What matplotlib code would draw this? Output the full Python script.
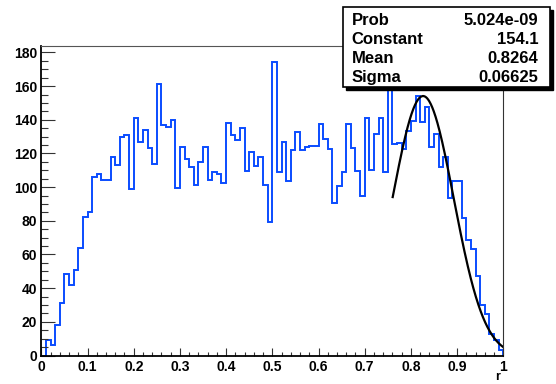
import numpy as np
import matplotlib
matplotlib.use("Agg")
import matplotlib.pyplot as plt
from matplotlib.patches import Rectangle
from matplotlib.ticker import MultipleLocator

# contenido de los 100 bines (0 a 1, ancho 0.01)
cuentas = [
    0, 9, 6, 18, 31, 48.5, 41.6, 51, 64, 82,
    85, 106, 108, 104, 104, 118, 113, 130, 131, 99,
    141, 127, 134, 123, 113.6, 161, 137, 136, 140, 99.6,
    124, 117, 112, 101, 115, 124, 104.5, 108.7, 107.7, 102.6,
    138, 131, 128, 135, 109.5, 121, 112.6, 118, 101, 79,
    174.5, 108.7, 126.8, 103.7, 122, 133, 122, 124, 124.7, 124.7,
    137.7, 128.4, 122.9, 90.7, 100.8, 108.7, 137.7, 123, 109.7, 95,
    141, 110, 131.5, 141, 109, 163, 125.5, 126.5, 122.6, 133.4,
    139.4, 154, 138.4, 147.6, 123.6, 131.4, 111.7, 118, 93.5, 103.4,
    103.4, 81.7, 68.7, 63.4, 47.4, 29.9, 24.6, 13, 9, 3,
]
bordes = np.linspace(0, 1, 101)

# parametros del ajuste gaussiano (caja de estadisticas)
etiquetas = ["Prob", "Constant", "Mean", "Sigma"]
valores = ["5.024e-09", "154.1", "0.8264", "0.06625"]
constante = 154.1
media = 0.8264
sigma = 0.06625
rango_ajuste = (0.7606, 1.0)

fig = plt.figure(figsize=(5.56, 3.84), dpi=100)
ax = fig.add_axes([41.3 / 556, 1 - 355.5 / 384, 462 / 556, 309.8 / 384])

ax.stairs(cuentas, bordes, color="#0a4cff", linewidth=1.4, baseline=0)

x_fit = np.linspace(rango_ajuste[0], rango_ajuste[1], 300)
y_fit = constante * np.exp(-0.5 * ((x_fit - media) / sigma) ** 2)
ax.plot(x_fit, y_fit, color="black", linewidth=1.6)

ax.set_xlim(0, 1)
ax.set_ylim(0, 184)

ax.xaxis.set_major_locator(MultipleLocator(0.1))
ax.xaxis.set_minor_locator(MultipleLocator(0.02))
ax.yaxis.set_major_locator(MultipleLocator(20))
ax.yaxis.set_minor_locator(MultipleLocator(5))
ax.set_xticks(np.arange(0, 1.01, 0.1))
ax.set_xticklabels(["0", "0.1", "0.2", "0.3", "0.4", "0.5", "0.6", "0.7", "0.8", "0.9", "1"])

ax.tick_params(which="both", direction="in", top=False, right=False,
               labelsize=10, width=0.8, color="#333333")
ax.tick_params(axis="y", which="major", length=10, pad=3)
ax.tick_params(axis="y", which="minor", length=5)
ax.tick_params(axis="x", which="major", length=6, pad=3)
ax.tick_params(axis="x", which="minor", length=3)
for lab in ax.get_xticklabels() + ax.get_yticklabels():
    lab.set_fontweight("bold")
    lab.set_fontfamily("Liberation Sans")

ax.spines["left"].set_linewidth(1.3)
ax.spines["bottom"].set_linewidth(1.3)
ax.spines["top"].set_linewidth(0.8)
ax.spines["right"].set_linewidth(0.8)
ax.spines["top"].set_color("#555555")
ax.spines["right"].set_color("#333333")

fig.text(498 / 556, 1 - 383 / 384, "r", fontsize=9, fontweight="bold",
         family="Liberation Sans", ha="center", va="bottom")

# caja de estadisticas con sombra
bx0, by0, bx1, by1 = 343.3, 7.3, 550, 87.3
sombra = Rectangle((bx0 + 2.5, 384 - by1 - 2.5), bx1 - bx0, by1 - by0,
                   transform=None, facecolor="black", edgecolor="black", zorder=5)
caja = Rectangle((bx0, 384 - by1), bx1 - bx0, by1 - by0, transform=None,
                 facecolor="white", edgecolor="black", linewidth=1.2, zorder=6)
fig.patches.extend([sombra, caja])

filas_y = [20.7, 39.3, 58.7, 77.3]
for etiqueta, valor, fy in zip(etiquetas, valores, filas_y):
    fig.text(351.7 / 556, 1 - fy / 384, etiqueta, fontsize=12, fontweight="bold",
             family="Liberation Sans", ha="left", va="center", zorder=7)
    fig.text(538.3 / 556, 1 - fy / 384, valor, fontsize=12, fontweight="bold",
             family="Liberation Sans", ha="right", va="center", zorder=7)

fig.savefig("out.png", dpi=100)
